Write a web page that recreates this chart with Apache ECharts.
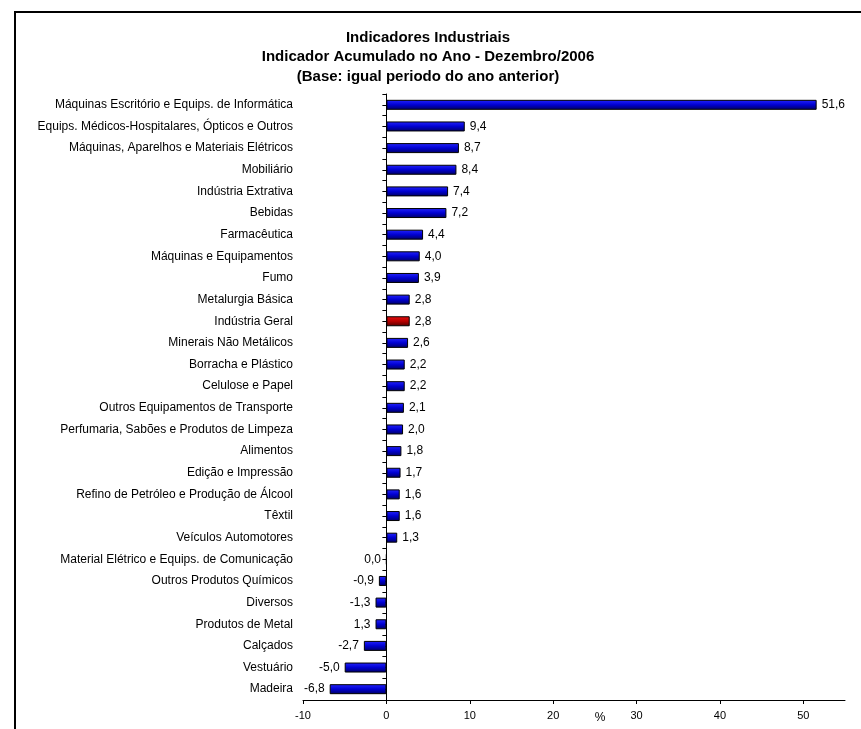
<!DOCTYPE html>
<html>
<head>
<meta charset="utf-8">
<title>Indicadores Industriais</title>
<script src="https://cdn.jsdelivr.net/npm/echarts@6/dist/echarts.min.js"></script>
<style>
	html, body {margin:0; padding:0; background:#fff;}
	#chart {width:861px; height:729px;}
</style>
</head>
<body>
<div id="chart"></div>
<script>
// setores, de cima para baixo
var setores = [
	'Máquinas Escritório e Equips. de Informática',
	'Equips. Médicos-Hospitalares, Ópticos e Outros',
	'Máquinas, Aparelhos e Materiais Elétricos',
	'Mobiliário',
	'Indústria Extrativa',
	'Bebidas',
	'Farmacêutica',
	'Máquinas e Equipamentos',
	'Fumo',
	'Metalurgia Básica',
	'Indústria Geral',
	'Minerais Não Metálicos',
	'Borracha e Plástico',
	'Celulose e Papel',
	'Outros Equipamentos de Transporte',
	'Perfumaria, Sabões e Produtos de Limpeza',
	'Alimentos',
	'Edição e Impressão',
	'Refino de Petróleo e Produção de Álcool',
	'Têxtil',
	'Veículos Automotores',
	'Material Elétrico e Equips. de Comunicação',
	'Outros Produtos Químicos',
	'Diversos',
	'Produtos de Metal',
	'Calçados',
	'Vestuário',
	'Madeira'
];
var valores = [51.6, 9.4, 8.7, 8.4, 7.4, 7.2, 4.4, 4.0, 3.9, 2.8, 2.8, 2.6, 2.2, 2.2,
	2.1, 2.0, 1.8, 1.7, 1.6, 1.6, 1.3, 0.0, -0.9, -1.3, -1.3, -2.7, -5.0, -6.8];
// rótulos como aparecem no gráfico original
var rotulos = ['51,6', '9,4', '8,7', '8,4', '7,4', '7,2', '4,4', '4,0', '3,9', '2,8', '2,8', '2,6', '2,2', '2,2',
	'2,1', '2,0', '1,8', '1,7', '1,6', '1,6', '1,3', '0,0', '-0,9', '-1,3', '1,3', '-2,7', '-5,0', '-6,8'];
var destaque = 'Indústria Geral';
var eixoX = {min: -10, max: 55, interval: 10};

var azul = new echarts.graphic.LinearGradient(0, 0, 0, 1, [
	{offset: 0, color: '#2424ff'},
	{offset: 0.5, color: '#0000d0'},
	{offset: 1, color: '#000060'}
]);
var vermelho = new echarts.graphic.LinearGradient(0, 0, 0, 1, [
	{offset: 0, color: '#e81010'},
	{offset: 0.5, color: '#b80000'},
	{offset: 1, color: '#500000'}
]);

var dados = [];
for(var i=0; i<valores.length; i++){
	dados.push({
		value: valores[i],
		itemStyle: {color: setores[i]==destaque ? vermelho : azul},
		label: {position: valores[i]>0 ? 'right' : 'left'}
	});
}

var fonte = 'Liberation Sans, Arial, sans-serif';
var chart = echarts.init(document.getElementById('chart'));
var option = {
	animation: false,
	title: {
		text: 'Indicadores Industriais\nIndicador Acumulado no Ano - Dezembro/2006\n(Base: igual periodo do ano anterior)',
		left: 423,
		top: 23,
		textAlign: 'center',
		textStyle: {
			fontFamily: fonte,
			fontSize: 15,
			fontWeight: 'bold',
			color: '#000',
			lineHeight: 19.5
		}
	},
	graphic: [{
		type: 'polyline',
		shape: {points: [[15, 729], [15, 12], [861, 12]]},
		style: {stroke: '#000', lineWidth: 2, fill: null}
	}],
	grid: {left: 303, right: 16, top: 94, bottom: 29, containLabel: false, outerBoundsMode: 'none'},
	xAxis: {
		type: 'value',
		min: eixoX.min,
		max: eixoX.max,
		interval: eixoX.interval,
		name: '%',
		nameLocation: 'middle',
		nameGap: 12,
		nameMoveOverlap: false,
		nameTextStyle: {fontFamily: fonte, fontSize: 12, color: '#000', padding: [0, 0, 0, 52]},
		axisLine: {onZero: false, lineStyle: {color: '#000', width: 1}},
		axisTick: {length: 4, lineStyle: {color: '#000'}},
		axisLabel: {fontFamily: fonte, fontSize: 11, color: '#000', margin: 10, showMaxLabel: false},
		splitLine: {show: false}
	},
	yAxis: [{
		type: 'category',
		data: setores,
		inverse: true,
		position: 'left',
		axisLine: {show: false, onZero: false},
		axisTick: {show: false},
		axisLabel: {fontFamily: fonte, fontSize: 12, color: '#000', margin: 10}
	}, {
		// eixo auxiliar so para a linha no zero e os traços
		type: 'value',
		min: 0,
		max: setores.length*2,
		interval: 1,
		position: 'left',
		axisLine: {show: true, onZero: true, lineStyle: {color: '#000', width: 1}},
		axisTick: {show: true, length: 4, lineStyle: {color: '#000'}},
		axisLabel: {show: false},
		splitLine: {show: false}
	}],
	series: [{
		type: 'bar',
		yAxisIndex: 0,
		data: dados,
		barWidth: 10,
		itemStyle: {borderColor: '#000', borderWidth: 1},
		label: {
			show: true,
			distance: 5,
			fontFamily: fonte,
			fontSize: 12,
			color: '#000',
			formatter: function(p){
				return rotulos[p.dataIndex];
			}
		},
		z: 1
	}]
};
chart.setOption(option);
</script>
</body>
</html>
